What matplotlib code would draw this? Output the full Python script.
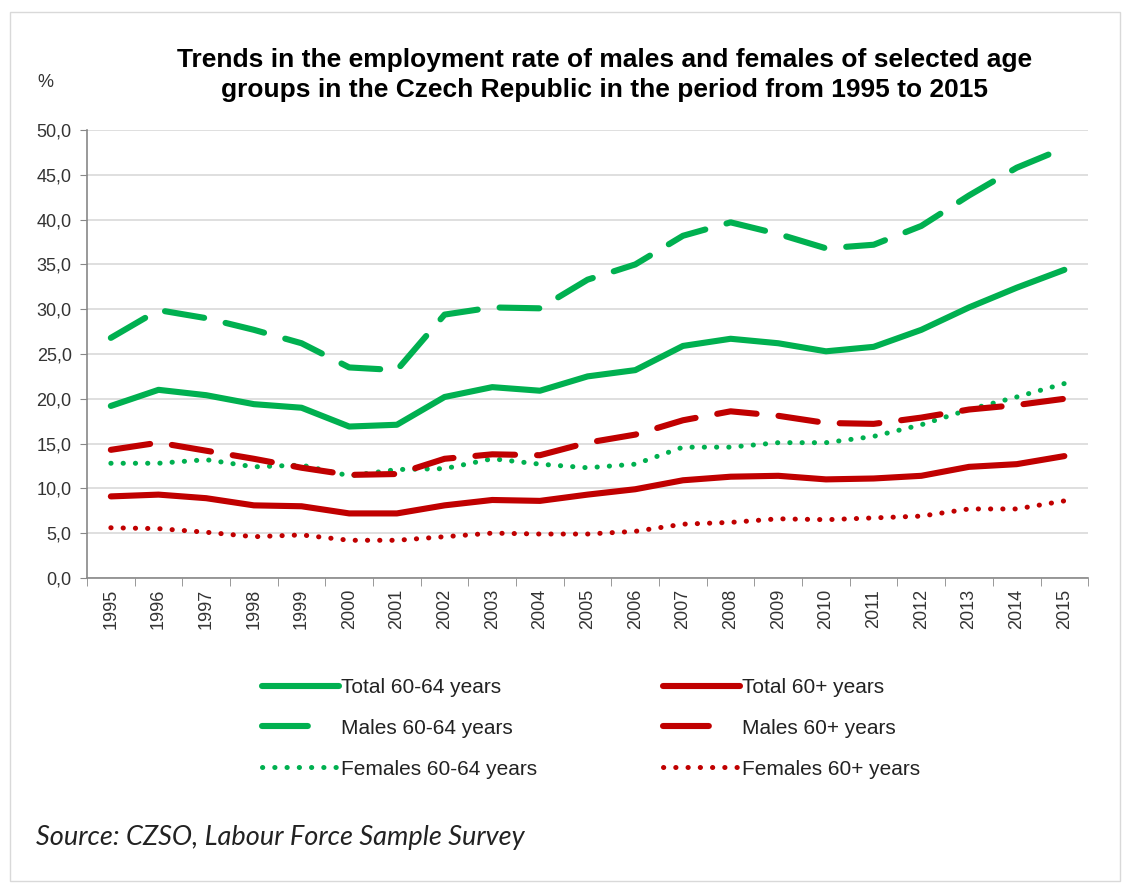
import matplotlib
matplotlib.use("Agg")
import matplotlib.pyplot as plt
from matplotlib.patches import Rectangle
from matplotlib.lines import Line2D

years = [str(y) for y in range(1995, 2016)]
total_60_64 = [19.2, 21.0, 20.4, 19.4, 19.0, 16.9, 17.1, 20.2, 21.3, 20.9, 22.5,
               23.2, 25.9, 26.7, 26.2, 25.3, 25.8, 27.7, 30.2, 32.4, 34.4]
males_60_64 = [26.8, 29.9, 29.0, 27.7, 26.2, 23.5, 23.2, 29.4, 30.2, 30.1, 33.3,
               35.0, 38.2, 39.7, 38.4, 36.8, 37.2, 39.3, 42.7, 45.8, 48.0]
females_60_64 = [12.8, 12.8, 13.2, 12.4, 12.6, 11.4, 12.1, 12.2, 13.3, 12.7, 12.3,
                 12.7, 14.6, 14.6, 15.1, 15.1, 15.8, 17.1, 18.8, 20.2, 21.7]
total_60p = [9.1, 9.3, 8.9, 8.1, 8.0, 7.2, 7.2, 8.1, 8.7, 8.6, 9.3,
             9.9, 10.9, 11.3, 11.4, 11.0, 11.1, 11.4, 12.4, 12.7, 13.6]
males_60p = [14.3, 15.1, 14.2, 13.3, 12.3, 11.5, 11.6, 13.3, 13.8, 13.7, 15.1,
             16.0, 17.6, 18.6, 18.1, 17.3, 17.2, 17.9, 18.8, 19.3, 20.0]
females_60p = [5.6, 5.5, 5.1, 4.6, 4.8, 4.2, 4.2, 4.6, 5.0, 4.9, 4.9,
               5.2, 6.0, 6.2, 6.6, 6.5, 6.7, 6.9, 7.7, 7.7, 8.6]

labels = ["Total 60-64 years", "Males 60-64 years", "Females 60-64 years",
          "Total 60+ years", "Males 60+ years", "Females 60+ years"]
yticks = [0, 5, 10, 15, 20, 25, 30, 35, 40, 45, 50]

GREEN = "#00B050"
RED = "#C00000"

plt.rcParams['font.family'] = ['Liberation Sans', 'DejaVu Sans']

fig = plt.figure(figsize=(11.3, 8.85), dpi=100)
fig.patches.append(Rectangle((0.009, 0.005), 0.982, 0.982, transform=fig.transFigure,
                             fill=False, edgecolor="#D9D9D9", linewidth=1.0))
ax = fig.add_axes([0.077, 0.347, 0.886, 0.506])

x = list(range(len(years)))
lw = 4.4
dash = (6.5, 3.6)
dot = (0.05, 2.4)
styles = [
    (total_60_64, GREEN, dict(linestyle='-')),
    (males_60_64, GREEN, dict(dashes=dash)),
    (females_60_64, GREEN, dict(dashes=dot, linewidth=3.6)),
    (total_60p, RED, dict(linestyle='-')),
    (males_60p, RED, dict(dashes=dash)),
    (females_60p, RED, dict(dashes=dot, linewidth=3.6)),
]
handles = []
for (vals, col, kw), lab in zip(styles, labels):
    kw = dict(kw)
    lwi = kw.pop('linewidth', lw)
    ax.plot(x, vals, color=col, linewidth=lwi, solid_capstyle='round',
            dash_capstyle='round', solid_joinstyle='round', label=lab, **kw)
    hkw = dict(kw)
    if hkw.get('dashes') == dash:
        hkw['dashes'] = (7.5, 20)
    handles.append(Line2D([], [], color=col, linewidth=lwi, solid_capstyle='round',
                          dash_capstyle='round', **hkw))

ax.set_xlim(-0.5, len(years) - 0.5)
ax.set_ylim(0, 50)
ax.set_yticks(yticks)
ax.set_yticklabels([f"{v:.1f}".replace('.', ',') for v in yticks], fontsize=13, color="#333333")
ax.set_xticks(x)
ax.set_xticklabels(years, rotation=90, fontsize=13, color="#333333")
ax.tick_params(axis='x', length=0, pad=8)
ax.set_xticks([i - 0.5 for i in range(len(years) + 1)], minor=True)
ax.tick_params(axis='x', which='minor', length=6, color="#888888", direction='out')
ax.tick_params(axis='y', length=5, color="#888888", pad=6)
ax.grid(axis='y', color="#D9D9D9", linewidth=1.2)
ax.set_axisbelow(True)
for s in ['top', 'right']:
    ax.spines[s].set_visible(False)
for s in ['left', 'bottom']:
    ax.spines[s].set_color("#888888")
    ax.spines[s].set_linewidth(1.2)

leg_kw = dict(loc='upper left', frameon=False, fontsize=15, handlelength=3.7,
              handletextpad=0.1, labelspacing=1.05, borderpad=0, borderaxespad=0)
leg1 = fig.legend(handles=handles[:3], labels=labels[:3],
                  bbox_to_anchor=(0.232, 0.234), **leg_kw)
leg2 = fig.legend(handles=handles[3:], labels=labels[3:],
                  bbox_to_anchor=(0.587, 0.234), **leg_kw)
for lg in (leg1, leg2):
    for t in lg.get_texts():
        t.set_color("#222222")

fig.text(0.535, 0.915, "Trends in the employment rate of males and females of selected age\n"
         "groups in the Czech Republic in the period from 1995 to 2015",
         ha='center', va='center', fontsize=19, fontweight='bold', linespacing=1.3)
fig.text(0.040, 0.907, "%", ha='center', va='center', fontsize=13, color="#333333")
fig.text(0.032, 0.054, "Source: CZSO, Labour Force Sample Survey", ha='left', va='center',
         fontsize=19.5, style='italic', family=['Lato', 'DejaVu Sans'], color="#222222")

fig.savefig("out.png", dpi=100)
